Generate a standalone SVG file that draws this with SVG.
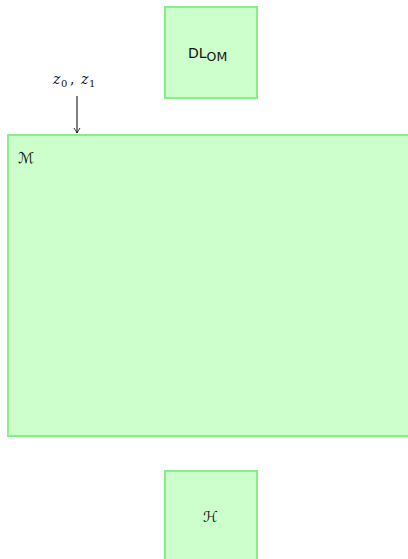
<svg xmlns="http://www.w3.org/2000/svg" width="408" height="559" viewBox="0 0 408 559">
<style>
.box{fill:#ccffcc;stroke:#88ee88;stroke-width:2}
.lbl{font-family:"DejaVu Sans","Liberation Sans",sans-serif;font-size:14px;fill:#111}
.math{font-family:"DejaVu Serif","Liberation Serif",serif;font-size:14px;fill:#111}
.script{font-family:"DejaVu Sans","Noto Sans",sans-serif;font-size:15px;fill:#111}
.conn{stroke:#000;stroke-width:1;fill:none}
</style>
<defs>
<marker id="arr" markerWidth="8" markerHeight="8" refX="6" refY="4" orient="auto" markerUnits="userSpaceOnUse">
<path d="M1,1 Q4,3 6,4 Q4,5 1,7" fill="none" stroke="#000" stroke-width="0.8"/>
</marker>
</defs>
<g id="M">
<rect class="box" x="8" y="135" width="410" height="301"/>
<text class="script" x="18" y="163">ℳ</text>
</g>
<g id="DLOM">
<rect class="box" x="165" y="7" width="92" height="91"/>
<text class="lbl" x="188" y="58">DL<tspan font-size="12.5" dy="3">OM</tspan></text>
</g>
<g id="H">
<rect class="box" x="165" y="471" width="92" height="98"/>
<text class="script" x="203" y="522">ℋ</text>
</g>
<g id="connectors">
<line class="conn" x1="77" y1="96" x2="77" y2="133" marker-end="url(#arr)"/>
<text class="math" y="84"><tspan x="53" font-style="italic">z</tspan><tspan x="61" y="87" font-size="10">0</tspan><tspan x="70" y="84">,</tspan><tspan x="81" font-style="italic">z</tspan><tspan x="89" y="87" font-size="10">1</tspan></text>
</g>
</svg>
